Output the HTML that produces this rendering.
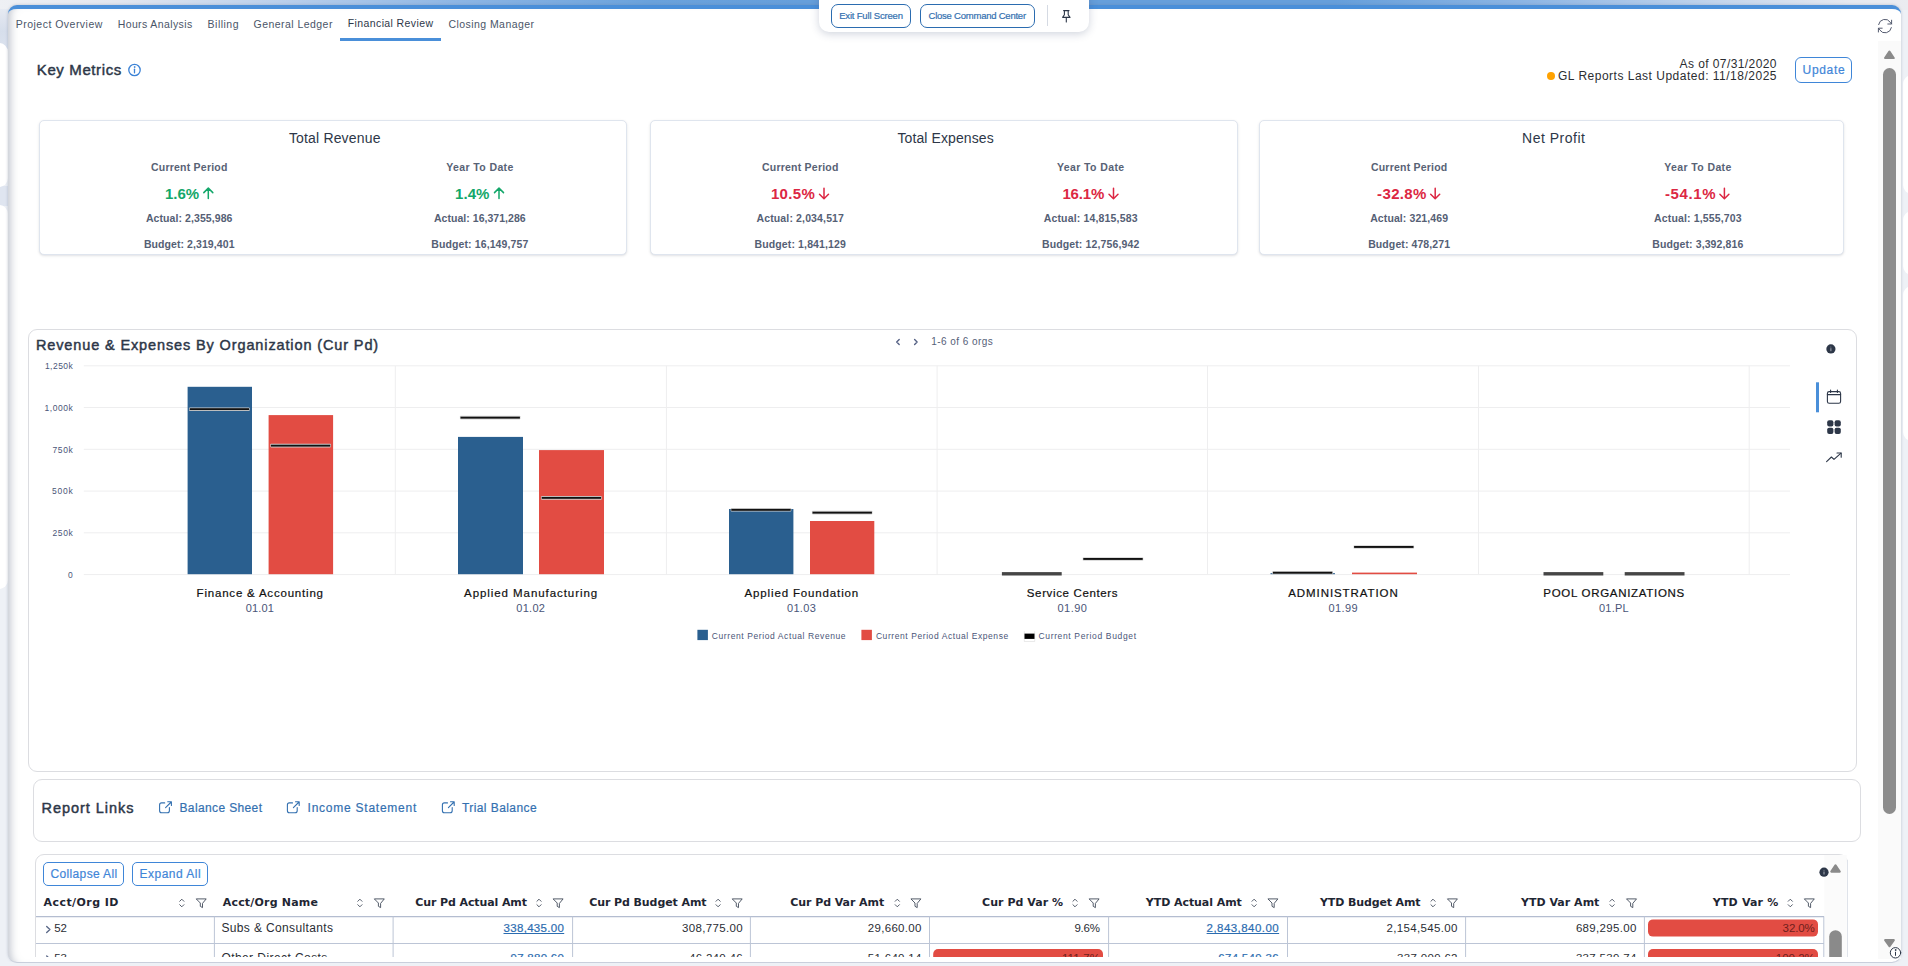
<!DOCTYPE html>
<html lang="en">
<head>
<meta charset="utf-8">
<title>Financial Review</title>
<style>

html,body{margin:0;padding:0}
body{width:1908px;height:966px;overflow:hidden;position:relative;background:#e6eaf3;font-family:"Liberation Sans",sans-serif;color:#2d3748}
.t{position:absolute;white-space:nowrap;margin:0;padding:0;font-weight:400;text-decoration:none}
.a{position:absolute;box-sizing:border-box}
.dj{font-family:"DejaVu Sans","Liberation Sans",sans-serif}
.md{-webkit-text-stroke:0.45px currentColor}
.sb{-webkit-text-stroke:0.2px currentColor}
.card{position:absolute;box-sizing:border-box;background:#fff;border:1px solid #dfe5ee;border-radius:5px;box-shadow:0 1px 3px rgba(20,30,50,.1),0 1px 2px -1px rgba(20,30,50,.1)}
.panel{position:absolute;box-sizing:border-box;background:#fff;border:1px solid #dcdde1;border-radius:9px}
.btn{position:absolute;box-sizing:border-box;background:#fff;border:1px solid #3f86d8;border-radius:5px}
svg{position:absolute;left:0;top:0;overflow:visible}
u{text-decoration:underline}

</style>
</head>
<body>
<div class="a" style="left:0;top:0;width:1908px;height:966px;background:#eef1f6"></div>
<div class="a" style="left:0;top:0;width:1908px;height:10px;background:linear-gradient(90deg,#eef0f4 0,#e3e7ef 6%,#b9cfeb 15%,#8db6e4 24%,#6aa2dc 34%,#669fdb 42%,#669fdb 70%,#8db6e4 80%,#c3d5ec 90%,#e6e9f0 97%,#ebecf0 100%)"></div>
<div class="a" style="left:0;top:9px;width:9px;height:40px;background:linear-gradient(180deg,#e6eaf2 0,#d6deeb 55%,#dbe2ee 100%)"></div>
<div class="a" style="left:0;top:186px;width:9px;height:20px;background:#dfe5f0"></div>
<div class="a" style="left:-20px;top:43px;width:27.5px;height:144px;background:#fff;border-radius:9px"></div>
<div class="a" style="left:-20px;top:205px;width:27.5px;height:384px;background:#fff;border-radius:9px"></div>
<div class="a" style="left:1903px;top:75px;width:27px;height:119px;background:#fff;border-radius:9px"></div>
<div class="a" style="left:1903px;top:211px;width:27px;height:64px;background:#fff;border-radius:9px"></div>
<div class="a" style="left:1903px;top:286px;width:27px;height:155px;background:#fff;border-radius:9px"></div>
<div class="a" id="main" style="left:8px;top:5px;width:1893px;height:957px;background:#fff;border-top:4px solid #4a8fd9;border-radius:9px;box-shadow:0 0 3px rgba(110,120,145,.4),inset 10px 0 9px -8px rgba(120,130,150,.5)"></div>
<div class="a" style="left:340px;top:38px;width:101px;height:3px;background:#4a8fd9"></div>
<div class="a" style="left:818.5px;top:-10px;width:270.5px;height:42px;background:#fff;border-radius:0 0 10px 10px;box-shadow:0 2px 8px rgba(40,60,100,.22)"></div>
<div class="btn" style="left:831px;top:4px;width:80px;height:24px;border-color:#2b6cb0;border-radius:7px"></div>
<div class="btn" style="left:920px;top:4px;width:115px;height:24px;border-color:#2b6cb0;border-radius:7px"></div>
<div class="a" style="left:1047px;top:5px;width:1px;height:21px;background:#d5dae3"></div>
<svg width="1908" height="966" viewBox="0 0 1908 966" fill="none" stroke="#2d3748" stroke-width="1.1" stroke-linecap="round" stroke-linejoin="round"><path d="M1063.6 10.6h5.4M1064.4 10.6v4.2l-1.8 2.6h7.4l-1.8-2.6v-4.2M1066.3 17.4v4.6"/></svg>
<svg width="1908" height="966" viewBox="0 0 1908 966" fill="none" stroke="#3b82d6" stroke-width="1.3" stroke-linecap="round"><circle cx="134.5" cy="70" r="5.7"/><path d="M134.5 69.2v3.6"/><circle cx="134.5" cy="67" r="0.5" fill="#3b82d6" stroke-width="0.7"/></svg>
<div class="a" style="left:1546.8px;top:72px;width:7.8px;height:7.8px;border-radius:50%;background:#ffa200"></div>
<div class="btn" style="left:1795px;top:57px;width:57px;height:26px;border-radius:6px"></div>
<svg width="1908" height="966" viewBox="0 0 1908 966" fill="none" stroke="#4b5267" stroke-width="0.95" stroke-linecap="round" stroke-linejoin="round"><path d="M1878.6 24.6a6.4 6.4 0 0 1 11.6-2.4l1.3 1.7M1891.6 20.2v3.8h-3.8M1891.4 27.6a6.4 6.4 0 0 1-11.6 2.4l-1.3-1.7M1878.4 32v-3.8h3.8"/></svg>
<div class="a" style="left:1878px;top:41px;width:23px;height:918px;background:#fafafa"></div>
<svg width="1908" height="966" viewBox="0 0 1908 966"><path d="M1889.4 51.6l4.3 6.4h-8.6z" fill="#8a8a8a" stroke="#8a8a8a" stroke-width="2.2" stroke-linejoin="round"/><path d="M1889.5 946.2l4.3-6h-8.6z" fill="#8a8a8a" stroke="#8a8a8a" stroke-width="2.2" stroke-linejoin="round"/></svg>
<div class="a" style="left:1883px;top:67.8px;width:13px;height:746.4px;border-radius:6.5px;background:#8c8c8c"></div>
<svg width="1908" height="966" viewBox="0 0 1908 966" fill="#fff" stroke="#2d3748" stroke-width="1" stroke-linecap="round"><circle cx="1895.5" cy="952.8" r="5.2"/><path d="M1895.5 952.2v3.2"/><circle cx="1895.5" cy="950" r="0.4" fill="#2d3748"/></svg>
<div class="card" style="left:39.0px;top:120px;width:588.0px;height:135px"></div>
<div class="card" style="left:650.0px;top:120px;width:588.0px;height:135px"></div>
<div class="card" style="left:1259.0px;top:120px;width:585.0px;height:135px"></div>
<svg width="1908" height="966" viewBox="0 0 1908 966" fill="none" stroke-width="1.5" stroke-linecap="round" stroke-linejoin="round"><path stroke="#13a76a" d="M208.3 198.6v-10.4M203.8 192.6l4.5-4.5 4.5 4.5"/><path stroke="#13a76a" d="M499.0 198.6v-10.4M494.5 192.6l4.5-4.5 4.5 4.5"/><path stroke="#dc2743" d="M824.0 188.2v10.4M819.5 194.2l4.5 4.5 4.5-4.5"/><path stroke="#dc2743" d="M1113.5 188.2v10.4M1109.0 194.2l4.5 4.5 4.5-4.5"/><path stroke="#dc2743" d="M1435.2 188.2v10.4M1430.7 194.2l4.5 4.5 4.5-4.5"/><path stroke="#dc2743" d="M1724.4 188.2v10.4M1719.9 194.2l4.5 4.5 4.5-4.5"/></svg>
<div class="panel" style="left:28px;top:329px;width:1829px;height:442.5px"></div>
<svg width="1908" height="966" viewBox="0 0 1908 966"><g stroke="#eeeeef" stroke-width="1"><path d="M83.8 574.60H1790"/><path d="M83.8 532.84H1790"/><path d="M83.8 491.08H1790"/><path d="M83.8 449.32H1790"/><path d="M83.8 407.56H1790"/><path d="M83.8 365.80H1790"/><path d="M395.3 365.80V574.60"/><path d="M666.4 365.80V574.60"/><path d="M937.1 365.80V574.60"/><path d="M1207.5 365.80V574.60"/><path d="M1478.5 365.80V574.60"/><path d="M1749.2 365.80V574.60"/></g><rect x="187.6" y="386.8" width="64.4" height="187.4" fill="#2a5f8f"/><rect x="268.6" y="415.1" width="64.5" height="159.1" fill="#e24c43"/><rect x="458.0" y="436.9" width="65.0" height="137.3" fill="#2a5f8f"/><rect x="539.0" y="450.1" width="65.0" height="124.1" fill="#e24c43"/><rect x="729.0" y="509.0" width="64.4" height="65.2" fill="#2a5f8f"/><rect x="810.0" y="521.0" width="64.3" height="53.2" fill="#e24c43"/><rect x="1270.5" y="573.2" width="64.5" height="1.0" fill="#2a5f8f"/><rect x="1352.0" y="572.6" width="65.0" height="1.6" fill="#e24c43"/><rect x="189.1" y="407.4" width="60.6" height="3.6" rx="0.8" fill="#d2d2d2"/><rect x="189.7" y="408.2" width="59.4" height="1.9" fill="#111"/><rect x="270.3" y="443.8" width="60.6" height="3.6" rx="0.8" fill="#d2d2d2"/><rect x="270.9" y="444.7" width="59.4" height="1.9" fill="#111"/><rect x="459.9" y="415.8" width="60.6" height="3.6" rx="0.8" fill="#d2d2d2"/><rect x="460.5" y="416.7" width="59.4" height="1.9" fill="#111"/><rect x="541.1" y="496.1" width="60.6" height="3.6" rx="0.8" fill="#d2d2d2"/><rect x="541.7" y="496.9" width="59.4" height="1.9" fill="#111"/><rect x="730.7" y="508.0" width="60.6" height="3.6" rx="0.8" fill="#d2d2d2"/><rect x="731.3" y="508.9" width="59.4" height="1.9" fill="#111"/><rect x="811.9" y="510.8" width="60.6" height="3.6" rx="0.8" fill="#d2d2d2"/><rect x="812.5" y="511.7" width="59.4" height="1.9" fill="#111"/><rect x="1001.9" y="572.1" width="59.8" height="3.4" fill="#464646"/><rect x="1082.7" y="557.2" width="60.6" height="3.6" rx="0.8" fill="#d2d2d2"/><rect x="1083.3" y="558.0" width="59.4" height="1.9" fill="#111"/><rect x="1272.3" y="570.9" width="60.6" height="3.6" rx="0.8" fill="#d2d2d2"/><rect x="1272.9" y="571.8" width="59.4" height="1.9" fill="#111"/><rect x="1353.5" y="545.2" width="60.6" height="3.6" rx="0.8" fill="#d2d2d2"/><rect x="1354.1" y="546.0" width="59.4" height="1.9" fill="#111"/><rect x="1543.5" y="572.1" width="59.8" height="3.4" fill="#464646"/><rect x="1624.7" y="572.1" width="59.8" height="3.4" fill="#464646"/><rect x="697.4" y="629.8" width="10.5" height="10.3" fill="#2a5f8f"/><rect x="861.4" y="629.8" width="10.5" height="10.3" fill="#e24c43"/><path d="M1024.3 631.2V641.5H1034.7V631.2" fill="none" stroke="#d4d4d4" stroke-width="0.5"/><rect x="1024.5" y="633.6" width="10" height="5.3" fill="#000"/><g fill="none" stroke="#566285" stroke-width="1.4" stroke-linecap="round" stroke-linejoin="round"><path d="M899.2 339.4l-2.5 2.5 2.5 2.5"/><path d="M914.6 339.4l2.5 2.5-2.5 2.5"/></g><circle cx="1830.9" cy="348.9" r="4.6" fill="#2d3748"/><path d="M1830.9 348.6v2.2" stroke="#c9ccd3" stroke-width="0.8" stroke-linecap="round"/><circle cx="1830.9" cy="347" r="0.45" fill="#c9ccd3"/><rect x="1816" y="382.3" width="3" height="30" fill="#4a8fd9"/><g fill="none" stroke="#2d3748" stroke-width="1.1" stroke-linecap="round" stroke-linejoin="round"><rect x="1827.4" y="391.6" width="13.2" height="11.6" rx="1.8"/><path d="M1827.4 394.6h13.2M1830.6 390v2.4M1837.4 390v2.4"/></g><g fill="#2d3748"><rect x="1827.2" y="420.3" width="6.2" height="6.2" rx="1.9"/><rect x="1834.6" y="420.3" width="6.2" height="6.2" rx="1.9"/><rect x="1827.2" y="427.7" width="6.2" height="6.2" rx="1.9"/><rect x="1834.6" y="427.7" width="6.2" height="6.2" rx="1.9"/></g><g fill="none" stroke="#2d3748" stroke-width="1.1" stroke-linecap="round" stroke-linejoin="round"><path d="M1826.6 461.6l4.8-4.6 2.6 2.4 7-6.2"/><path d="M1837 453h4.2v4.2"/></g></svg>
<div class="panel" style="left:33px;top:779.2px;width:1828px;height:62.5px"></div>
<svg width="1908" height="966" viewBox="0 0 1908 966" fill="none" stroke="#3370b0" stroke-width="1.1" stroke-linecap="round" stroke-linejoin="round"><path d="M164.7 802.9h-3.1a2 2 0 0 0-2 2v5.8a2 2 0 0 0 2 2h5.8a2 2 0 0 0 2-2v-3.1M167.7 801.8h3.7v3.7M171.2 802l-5.6 5.6"/><path d="M292.5 802.9h-3.1a2 2 0 0 0-2 2v5.8a2 2 0 0 0 2 2h5.8a2 2 0 0 0 2-2v-3.1M295.5 801.8h3.7v3.7M299.0 802l-5.6 5.6"/><path d="M447.5 802.9h-3.1a2 2 0 0 0-2 2v5.8a2 2 0 0 0 2 2h5.8a2 2 0 0 0 2-2v-3.1M450.5 801.8h3.7v3.7M454.0 802l-5.6 5.6"/></svg>
<div class="panel" style="left:35px;top:854px;width:1813px;height:130px;border-radius:9px"></div>
<div class="btn" style="left:43px;top:862.4px;width:81px;height:23.4px;border-radius:5px"></div>
<div class="btn" style="left:132.2px;top:862.4px;width:75.6px;height:23.4px;border-radius:5px"></div>
<svg width="1908" height="966" viewBox="0 0 1908 966"><path d="M1824.4 855H1846.8V966H1824.4z" fill="#fbfbfb"/><path d="M1847.5 860V966" stroke="#dfe3ea" stroke-width="1"/><path d="M36 916.6H1824" stroke="#b4bdd0" stroke-width="1.3"/><path d="M36 943.5H1824" stroke="#bcc5d6" stroke-width="1"/><g stroke="#bcc5d6" stroke-width="1"><path d="M214.4 916.4V966"/><path d="M393.1 916.4V966"/><path d="M572.6 916.4V966"/><path d="M750.4 916.4V966"/><path d="M929.5 916.4V966"/><path d="M1108.6 916.4V966"/><path d="M1287.5 916.4V966"/><path d="M1465.6 916.4V966"/><path d="M1644.4 916.4V966"/><path d="M1823.8 916.4V966"/></g><g fill="none" stroke="#414959" stroke-width="0.9" stroke-linecap="round" stroke-linejoin="round"><path d="M179.7 901.3l2.1-2.1 2.1 2.1M179.7 904.7l2.1 2.1 2.1-2.1"/><path d="M196.6 898.9h9.6l-3.7 4.5v4.2l-2.2-1.3v-2.9z"/><path d="M357.8 901.3l2.1-2.1 2.1 2.1M357.8 904.7l2.1 2.1 2.1-2.1"/><path d="M374.7 898.9h9.6l-3.7 4.5v4.2l-2.2-1.3v-2.9z"/><path d="M536.9 901.3l2.1-2.1 2.1 2.1M536.9 904.7l2.1 2.1 2.1-2.1"/><path d="M553.5 898.9h9.6l-3.7 4.5v4.2l-2.2-1.3v-2.9z"/><path d="M716.0 901.3l2.1-2.1 2.1 2.1M716.0 904.7l2.1 2.1 2.1-2.1"/><path d="M732.6 898.9h9.6l-3.7 4.5v4.2l-2.2-1.3v-2.9z"/><path d="M895.2 901.3l2.1-2.1 2.1 2.1M895.2 904.7l2.1 2.1 2.1-2.1"/><path d="M911.3 898.9h9.6l-3.7 4.5v4.2l-2.2-1.3v-2.9z"/><path d="M1072.9 901.3l2.1-2.1 2.1 2.1M1072.9 904.7l2.1 2.1 2.1-2.1"/><path d="M1089.5 898.9h9.6l-3.7 4.5v4.2l-2.2-1.3v-2.9z"/><path d="M1252.0 901.3l2.1-2.1 2.1 2.1M1252.0 904.7l2.1 2.1 2.1-2.1"/><path d="M1268.3 898.9h9.6l-3.7 4.5v4.2l-2.2-1.3v-2.9z"/><path d="M1430.9 901.3l2.1-2.1 2.1 2.1M1430.9 904.7l2.1 2.1 2.1-2.1"/><path d="M1447.8 898.9h9.6l-3.7 4.5v4.2l-2.2-1.3v-2.9z"/><path d="M1610.0 901.3l2.1-2.1 2.1 2.1M1610.0 904.7l2.1 2.1 2.1-2.1"/><path d="M1626.9 898.9h9.6l-3.7 4.5v4.2l-2.2-1.3v-2.9z"/><path d="M1788.2 901.3l2.1-2.1 2.1 2.1M1788.2 904.7l2.1 2.1 2.1-2.1"/><path d="M1804.7 898.9h9.6l-3.7 4.5v4.2l-2.2-1.3v-2.9z"/></g><path d="M46.7 926.4l3.2 3-3.2 3" fill="none" stroke="#5b6988" stroke-width="1.4" stroke-linecap="round" stroke-linejoin="round"/><rect x="1648.0" y="919.4" width="170.0" height="17.2" rx="5" fill="#e24c43"/><path d="M46.7 956.0l3.2 3-3.2 3" fill="none" stroke="#5b6988" stroke-width="1.4" stroke-linecap="round" stroke-linejoin="round"/><rect x="933.2" y="949.0" width="169.8" height="17.2" rx="5" fill="#e24c43"/><rect x="1648.0" y="949.0" width="170.0" height="17.2" rx="5" fill="#e24c43"/><circle cx="1824" cy="872.2" r="4.6" fill="#2d3748"/><path d="M1824 871.9v2.2" stroke="#c9ccd3" stroke-width="0.8" stroke-linecap="round"/><circle cx="1824" cy="870.3" r="0.45" fill="#c9ccd3"/><path d="M1835.5 865.4l4.2 6.2h-8.4z" fill="#8a8a8a" stroke="#8a8a8a" stroke-width="2.2" stroke-linejoin="round"/><rect x="1829.2" y="930.2" width="12.6" height="60" rx="6.3" fill="#8a8a8a"/></svg>

<div id="texts">
<span class="t" style="top:16px;font-size:10.5px;line-height:16px;color:#4a5568;letter-spacing:0.476px;left:15.80px;">Project Overview</span>
<span class="t" style="top:16px;font-size:10.5px;line-height:16px;color:#4a5568;letter-spacing:0.388px;left:117.70px;">Hours Analysis</span>
<span class="t" style="top:16px;font-size:10.5px;line-height:16px;color:#4a5568;letter-spacing:0.481px;left:207.60px;">Billing</span>
<span class="t" style="top:16px;font-size:10.5px;line-height:16px;color:#4a5568;letter-spacing:0.449px;left:253.60px;">General Ledger</span>
<span class="t" style="top:15px;font-size:10.5px;line-height:16px;color:#2d3748;letter-spacing:0.388px;left:347.80px;">Financial Review</span>
<span class="t" style="top:16px;font-size:10.5px;line-height:16px;color:#4a5568;letter-spacing:0.436px;left:448.50px;">Closing Manager</span>
<span class="t sb" style="top:8px;font-size:9.5px;line-height:15px;color:#3370b0;letter-spacing:-0.182px;left:839.20px;">Exit Full Screen</span>
<span class="t sb" style="top:8px;font-size:9.5px;line-height:15px;color:#3370b0;letter-spacing:-0.227px;left:928.50px;">Close Command Center</span>
<span class="t md" style="top:59px;font-size:15px;line-height:21px;color:#2d3748;letter-spacing:0.614px;left:36.80px;">Key Metrics</span>
<span class="t" style="top:55px;font-size:12px;line-height:18px;color:#2b2d31;letter-spacing:0.410px;left:1679.60px;">As of 07/31/2020</span>
<span class="t" style="top:67px;font-size:12px;line-height:18px;color:#2b2d31;letter-spacing:0.501px;left:1558.00px;">GL Reports Last Updated: 11/18/2025</span>
<span class="t sb" style="top:61px;font-size:12px;line-height:18px;color:#3f86d8;letter-spacing:0.679px;left:1802.55px;">Update</span>
<span class="t" style="top:128px;font-size:14px;line-height:20px;color:#2d3748;letter-spacing:0.165px;left:288.95px;">Total Revenue</span>
<span class="t" style="top:159px;font-size:10.5px;line-height:16px;font-weight:700;color:#586275;letter-spacing:0.222px;left:151.00px;">Current Period</span>
<span class="t" style="top:159px;font-size:10.5px;line-height:16px;font-weight:700;color:#586275;letter-spacing:0.387px;left:446.25px;">Year To Date</span>
<span class="t" style="top:183px;font-size:15px;line-height:21px;font-weight:700;color:#13a76a;left:165.00px;">1.6%</span>
<span class="t" style="top:183px;font-size:15px;line-height:21px;font-weight:700;color:#13a76a;letter-spacing:0.066px;left:455.00px;">1.4%</span>
<span class="t" style="top:210px;font-size:10.5px;line-height:16px;font-weight:700;color:#556075;letter-spacing:0.080px;left:145.95px;">Actual: 2,355,986</span>
<span class="t" style="top:236px;font-size:10.5px;line-height:16px;font-weight:700;color:#556075;letter-spacing:0.081px;left:143.90px;">Budget: 2,319,401</span>
<span class="t" style="top:210px;font-size:10.5px;line-height:16px;font-weight:700;color:#556075;letter-spacing:0.032px;left:434.00px;">Actual: 16,371,286</span>
<span class="t" style="top:236px;font-size:10.5px;line-height:16px;font-weight:700;color:#556075;letter-spacing:0.103px;left:431.35px;">Budget: 16,149,757</span>
<span class="t" style="top:128px;font-size:14px;line-height:20px;color:#2d3748;letter-spacing:0.104px;left:897.45px;">Total Expenses</span>
<span class="t" style="top:159px;font-size:10.5px;line-height:16px;font-weight:700;color:#586275;letter-spacing:0.222px;left:762.00px;">Current Period</span>
<span class="t" style="top:159px;font-size:10.5px;line-height:16px;font-weight:700;color:#586275;letter-spacing:0.387px;left:1057.05px;">Year To Date</span>
<span class="t" style="top:183px;font-size:15px;line-height:21px;font-weight:700;color:#dc2743;letter-spacing:0.338px;left:770.90px;">10.5%</span>
<span class="t" style="top:183px;font-size:15px;line-height:21px;font-weight:700;color:#dc2743;letter-spacing:-0.162px;left:1062.40px;">16.1%</span>
<span class="t" style="top:210px;font-size:10.5px;line-height:16px;font-weight:700;color:#556075;letter-spacing:0.143px;left:756.45px;">Actual: 2,034,517</span>
<span class="t" style="top:236px;font-size:10.5px;line-height:16px;font-weight:700;color:#556075;letter-spacing:0.125px;left:754.55px;">Budget: 1,841,129</span>
<span class="t" style="top:210px;font-size:10.5px;line-height:16px;font-weight:700;color:#556075;letter-spacing:0.167px;left:1043.65px;">Actual: 14,815,583</span>
<span class="t" style="top:236px;font-size:10.5px;line-height:16px;font-weight:700;color:#556075;letter-spacing:0.127px;left:1041.95px;">Budget: 12,756,942</span>
<span class="t" style="top:128px;font-size:14px;line-height:20px;color:#2d3748;letter-spacing:0.516px;left:1522.00px;">Net Profit</span>
<span class="t" style="top:159px;font-size:10.5px;line-height:16px;font-weight:700;color:#586275;letter-spacing:0.222px;left:1370.90px;">Current Period</span>
<span class="t" style="top:159px;font-size:10.5px;line-height:16px;font-weight:700;color:#586275;letter-spacing:0.387px;left:1664.25px;">Year To Date</span>
<span class="t" style="top:183px;font-size:15px;line-height:21px;font-weight:700;color:#dc2743;letter-spacing:0.354px;left:1377.10px;">-32.8%</span>
<span class="t" style="top:183px;font-size:15px;line-height:21px;font-weight:700;color:#dc2743;letter-spacing:0.614px;left:1664.90px;">-54.1%</span>
<span class="t" style="top:210px;font-size:10.5px;line-height:16px;font-weight:700;color:#556075;letter-spacing:0.095px;left:1370.20px;">Actual: 321,469</span>
<span class="t" style="top:236px;font-size:10.5px;line-height:16px;font-weight:700;color:#556075;letter-spacing:0.091px;left:1368.20px;">Budget: 478,271</span>
<span class="t" style="top:210px;font-size:10.5px;line-height:16px;font-weight:700;color:#556075;letter-spacing:0.143px;left:1654.05px;">Actual: 1,555,703</span>
<span class="t" style="top:236px;font-size:10.5px;line-height:16px;font-weight:700;color:#556075;letter-spacing:0.100px;left:1652.35px;">Budget: 3,392,816</span>
<span class="t md" style="top:335px;font-size:14.5px;line-height:20px;color:#2d3748;letter-spacing:0.877px;left:35.90px;">Revenue &amp; Expenses By Organization (Cur Pd)</span>
<span class="t" style="top:568px;font-size:8.5px;line-height:14px;color:#4a5578;left:68.07px;">0</span>
<span class="t" style="top:526px;font-size:8.5px;line-height:14px;color:#4a5578;letter-spacing:0.654px;left:52.40px;">250k</span>
<span class="t" style="top:484px;font-size:8.5px;line-height:14px;color:#4a5578;letter-spacing:0.788px;left:52.00px;">500k</span>
<span class="t" style="top:443px;font-size:8.5px;line-height:14px;color:#4a5578;letter-spacing:0.654px;left:52.40px;">750k</span>
<span class="t" style="top:401px;font-size:8.5px;line-height:14px;color:#4a5578;letter-spacing:0.554px;left:44.50px;">1,000k</span>
<span class="t" style="top:359px;font-size:8.5px;line-height:14px;color:#4a5578;letter-spacing:0.474px;left:44.90px;">1,250k</span>
<span class="t sb" style="top:585px;font-size:11.5px;line-height:16px;color:#111;letter-spacing:0.797px;left:196.60px;">Finance &amp; Accounting</span>
<span class="t" style="top:600px;font-size:11px;line-height:16px;color:#4a5578;letter-spacing:0.142px;left:245.75px;">01.01</span>
<span class="t sb" style="top:585px;font-size:11.5px;line-height:16px;color:#111;letter-spacing:0.933px;left:464.05px;">Applied Manufacturing</span>
<span class="t" style="top:600px;font-size:11px;line-height:16px;color:#4a5578;letter-spacing:0.267px;left:516.30px;">01.02</span>
<span class="t sb" style="top:585px;font-size:11.5px;line-height:16px;color:#111;letter-spacing:0.858px;left:744.55px;">Applied Foundation</span>
<span class="t" style="top:600px;font-size:11px;line-height:16px;color:#4a5578;letter-spacing:0.367px;left:786.90px;">01.03</span>
<span class="t sb" style="top:585px;font-size:11.5px;line-height:16px;color:#111;letter-spacing:0.642px;left:1026.80px;">Service Centers</span>
<span class="t" style="top:600px;font-size:11px;line-height:16px;color:#4a5578;letter-spacing:0.442px;left:1057.55px;">01.90</span>
<span class="t sb" style="top:585px;font-size:11.5px;line-height:16px;color:#111;letter-spacing:0.919px;left:1288.25px;">ADMINISTRATION</span>
<span class="t" style="top:600px;font-size:11px;line-height:16px;color:#4a5578;letter-spacing:0.367px;left:1328.50px;">01.99</span>
<span class="t sb" style="top:585px;font-size:11.5px;line-height:16px;color:#111;letter-spacing:0.695px;left:1543.35px;">POOL ORGANIZATIONS</span>
<span class="t" style="top:600px;font-size:11px;line-height:16px;color:#4a5578;letter-spacing:0.213px;left:1599.00px;">01.PL</span>
<span class="t" style="top:629px;font-size:8.5px;line-height:14px;color:#4a5578;letter-spacing:0.593px;left:711.80px;">Current Period Actual Revenue</span>
<span class="t" style="top:629px;font-size:8.5px;line-height:14px;color:#4a5578;letter-spacing:0.574px;left:875.90px;">Current Period Actual Expense</span>
<span class="t" style="top:629px;font-size:8.5px;line-height:14px;color:#4a5578;letter-spacing:0.646px;left:1038.50px;">Current Period Budget</span>
<span class="t" style="top:334px;font-size:10px;line-height:15px;color:#566078;letter-spacing:0.454px;left:931.20px;">1-6 of 6 orgs</span>
<span class="t md" style="top:798px;font-size:14.5px;line-height:20px;color:#2d3748;letter-spacing:0.954px;left:41.60px;">Report Links</span>
<a class="t sb" style="top:799px;font-size:12px;line-height:18px;color:#3370b0;letter-spacing:0.370px;left:179.50px;">Balance Sheet</a>
<a class="t sb" style="top:799px;font-size:12px;line-height:18px;color:#3370b0;letter-spacing:0.754px;left:307.60px;">Income Statement</a>
<a class="t sb" style="top:799px;font-size:12px;line-height:18px;color:#3370b0;letter-spacing:0.434px;left:461.90px;">Trial Balance</a>
<span class="t sb" style="top:865px;font-size:12px;line-height:18px;color:#3f86d8;letter-spacing:0.372px;left:50.40px;">Collapse All</span>
<span class="t sb" style="top:865px;font-size:12px;line-height:18px;color:#3f86d8;letter-spacing:0.487px;left:139.55px;">Expand All</span>
<span class="t dj" style="top:894px;font-size:11px;line-height:17px;font-weight:700;color:#1f2633;letter-spacing:0.425px;left:43.60px;">Acct/Org ID</span>
<span class="t dj" style="top:894px;font-size:11px;line-height:17px;font-weight:700;color:#1f2633;letter-spacing:0.202px;left:222.70px;">Acct/Org Name</span>
<span class="t dj" style="top:894px;font-size:11px;line-height:17px;font-weight:700;color:#1f2633;letter-spacing:-0.101px;left:415.30px;">Cur Pd Actual Amt</span>
<span class="t dj" style="top:894px;font-size:11px;line-height:17px;font-weight:700;color:#1f2633;letter-spacing:-0.079px;left:589.20px;">Cur Pd Budget Amt</span>
<span class="t dj" style="top:894px;font-size:11px;line-height:17px;font-weight:700;color:#1f2633;letter-spacing:-0.065px;left:790.30px;">Cur Pd Var Amt</span>
<span class="t dj" style="top:894px;font-size:11px;line-height:17px;font-weight:700;color:#1f2633;letter-spacing:0.032px;left:982.10px;">Cur Pd Var %</span>
<span class="t dj" style="top:894px;font-size:11px;line-height:17px;font-weight:700;color:#1f2633;letter-spacing:-0.062px;left:1145.80px;">YTD Actual Amt</span>
<span class="t dj" style="top:894px;font-size:11px;line-height:17px;font-weight:700;color:#1f2633;letter-spacing:-0.122px;left:1320.00px;">YTD Budget Amt</span>
<span class="t dj" style="top:894px;font-size:11px;line-height:17px;font-weight:700;color:#1f2633;letter-spacing:0.023px;left:1520.90px;">YTD Var Amt</span>
<span class="t dj" style="top:894px;font-size:11px;line-height:17px;font-weight:700;color:#1f2633;letter-spacing:0.169px;left:1712.80px;">YTD Var %</span>
<span class="t" style="top:920px;font-size:11.5px;line-height:16px;color:#2a2d34;letter-spacing:-0.197px;left:54.30px;">52</span>
<span class="t" style="top:919px;font-size:12px;line-height:18px;color:#2a2d34;letter-spacing:0.364px;left:221.40px;">Subs &amp; Consultants</span>
<a class="t sb" style="top:920px;font-size:11.5px;line-height:16px;color:#2b6cb0;letter-spacing:0.315px;left:503.50px;text-decoration:underline;">338,435.00</a>
<span class="t" style="top:920px;font-size:11.5px;line-height:16px;color:#2a2d34;letter-spacing:0.338px;left:682.00px;">308,775.00</span>
<span class="t" style="top:920px;font-size:11.5px;line-height:16px;color:#2a2d34;letter-spacing:0.304px;left:867.80px;">29,660.00</span>
<span class="t" style="top:920px;font-size:11.5px;line-height:16px;color:#2a2d34;letter-spacing:-0.240px;left:1074.40px;">9.6%</span>
<a class="t sb" style="top:920px;font-size:11.5px;line-height:16px;color:#2b6cb0;letter-spacing:0.449px;left:1206.60px;text-decoration:underline;">2,843,840.00</a>
<span class="t" style="top:920px;font-size:11.5px;line-height:16px;color:#2a2d34;letter-spacing:0.359px;left:1386.40px;">2,154,545.00</span>
<span class="t" style="top:920px;font-size:11.5px;line-height:16px;color:#2a2d34;letter-spacing:0.315px;left:1575.90px;">689,295.00</span>
<span class="t" style="top:920px;font-size:11.5px;line-height:16px;color:#6e1f1c;letter-spacing:-0.102px;left:1782.60px;">32.0%</span>
<span class="t" style="top:950px;font-size:11.5px;line-height:16px;color:#2a2d34;letter-spacing:-0.197px;left:54.30px;">53</span>
<span class="t" style="top:949px;font-size:12px;line-height:18px;color:#2a2d34;letter-spacing:0.429px;left:221.40px;">Other Direct Costs</span>
<a class="t sb" style="top:950px;font-size:11.5px;line-height:16px;color:#2b6cb0;letter-spacing:0.279px;left:510.50px;text-decoration:underline;">97,880.60</a>
<span class="t" style="top:950px;font-size:11.5px;line-height:16px;color:#2a2d34;letter-spacing:0.304px;left:689.00px;">46,240.46</span>
<span class="t" style="top:950px;font-size:11.5px;line-height:16px;color:#2a2d34;letter-spacing:0.304px;left:867.80px;">51,640.14</span>
<span class="t" style="top:950px;font-size:11.5px;line-height:16px;color:#6e1f1c;letter-spacing:0.141px;left:1061.90px;">111.7%</span>
<a class="t sb" style="top:950px;font-size:11.5px;line-height:16px;color:#2b6cb0;letter-spacing:0.326px;left:1218.20px;text-decoration:underline;">674,549.36</a>
<span class="t" style="top:950px;font-size:11.5px;line-height:16px;color:#2a2d34;letter-spacing:0.315px;left:1397.10px;">337,009.62</span>
<span class="t" style="top:950px;font-size:11.5px;line-height:16px;color:#2a2d34;letter-spacing:0.315px;left:1575.90px;">337,539.74</span>
<span class="t" style="top:950px;font-size:11.5px;line-height:16px;color:#6e1f1c;left:1775.80px;">100.2%</span>
</div>
<div class="a" style="left:30px;top:956.8px;width:1848px;height:5.2px;background:#fff"></div>
<div class="a" style="left:0;top:962px;width:1908px;height:4px;background:#eef1f6"></div>
<div class="a" style="left:8px;top:948px;width:1893px;height:15px;border:1px solid #c9cfdc;border-top:none;border-left:none;border-right:none;border-radius:0 0 9px 9px;box-sizing:border-box"></div>

</body>
</html>
